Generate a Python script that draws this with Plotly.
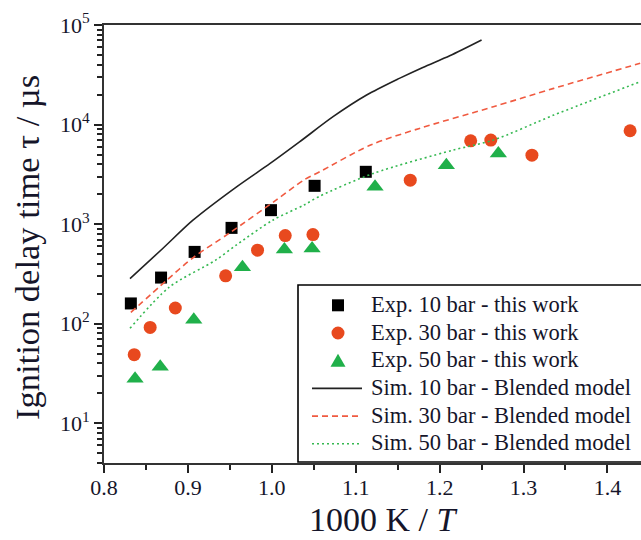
import plotly.graph_objects as go

# Experimental data (1000 K / T, ignition delay in microseconds)
exp10_x = [0.832, 0.868, 0.908, 0.952, 0.999, 1.051, 1.112]
exp10_y = [160, 291, 527, 918, 1383, 2427, 3356]

exp30_x = [0.836, 0.855, 0.885, 0.945, 0.983, 1.016, 1.049, 1.165, 1.237, 1.261, 1.310, 1.427]
exp30_y = [49, 92, 144, 303, 548, 769, 787, 2768, 6870, 6985, 4936, 8670]

exp50_x = [0.837, 0.867, 0.907, 0.965, 1.015, 1.048, 1.123, 1.208, 1.270]
exp50_y = [28, 37, 110, 370, 557, 570, 2371, 3917, 5132]

# Simulations (Blended model)
sim10_x = [0.831, 0.870, 0.906, 0.958, 0.998, 1.033, 1.073, 1.113, 1.152, 1.180, 1.212, 1.250]
sim10_y = [284, 570, 1096, 2371, 4070, 6700, 12000, 19800, 29100, 37500, 49000, 70600]

sim30_x = [0.832, 0.874, 0.906, 0.950, 1.005, 1.038, 1.057, 1.117, 1.176, 1.264, 1.336, 1.439]
sim30_y = [130, 270, 460, 820, 1742, 2768, 3356, 6200, 9160, 15100, 23100, 41200]

sim50_x = [0.831, 0.878, 0.933, 0.958, 1.001, 1.038, 1.057, 1.121, 1.216, 1.264, 1.336, 1.439]
sim50_y = [90, 234, 435, 620, 1096, 1552, 1910, 3236, 5540, 6985, 12450, 26900]

series_names = [
    "Exp. 10 bar - this work",
    "Exp. 30 bar - this work",
    "Exp. 50 bar - this work",
    "Sim. 10 bar - Blended model",
    "Sim. 30 bar - Blended model",
    "Sim. 50 bar - Blended model",
]

x_ticks = [0.8, 0.9, 1.0, 1.1, 1.2, 1.3, 1.4]
y_ticks = [10, 100, 1000, 10000, 100000]
y_tick_text = ["10<sup>1</sup>", "10<sup>2</sup>", "10<sup>3</sup>", "10<sup>4</sup>", "10<sup>5</sup>"]

RED = "#E8491E"
GREEN = "#20B04A"
RED_LINE = "#F05A40"
GREEN_LINE = "#35B851"
FONT = "Liberation Serif"
TXT = "#15152a"

W, H = 641, 540
L, R, T, B = 104, 0, 25, 77
PW, PH = W - L - R, H - T - B


def px_x(p):
    return (p - L) / PW


def px_y(p):
    return (H - B - p) / PH


fig = go.Figure()
fig.add_trace(go.Scatter(x=exp10_x, y=exp10_y, mode="markers", name=series_names[0],
                         marker=dict(symbol="square", size=12, color="black")))
fig.add_trace(go.Scatter(x=exp30_x, y=exp30_y, mode="markers", name=series_names[1],
                         marker=dict(symbol="circle", size=13, color=RED)))
fig.add_trace(go.Scatter(x=exp50_x, y=exp50_y, mode="markers", name=series_names[2],
                         marker=dict(symbol="triangle-up", size=15, color=GREEN)))
fig.add_trace(go.Scatter(x=sim10_x, y=sim10_y, mode="lines", name=series_names[3],
                         line=dict(color="#222222", width=1.6, shape="spline", smoothing=0.8)))
fig.add_trace(go.Scatter(x=sim30_x, y=sim30_y, mode="lines", name=series_names[4],
                         line=dict(color=RED_LINE, width=1.6, dash="6px,4px", shape="spline", smoothing=0.8)))
fig.add_trace(go.Scatter(x=sim50_x, y=sim50_y, mode="lines", name=series_names[5],
                         line=dict(color=GREEN_LINE, width=1.6, dash="2px,3px", shape="spline", smoothing=0.8)))

minor_y = []
for d in [1, 10, 100, 1000, 10000]:
    for k in range(2, 10):
        v = k * d
        if v >= 4:
            minor_y.append(v)

shapes = []
annotations = []

# Legend box (manual legend to match the reference spacing)
shapes.append(dict(type="rect", xref="paper", yref="paper",
                   x0=px_x(298), x1=px_x(660), y0=px_y(462), y1=px_y(285),
                   line=dict(color="black", width=1.6), fillcolor="white", layer="above"))
row_y = [304.3, 332.0, 359.7, 387.4, 415.1, 442.8]
sym_x = 338
for i, name in enumerate(series_names):
    annotations.append(dict(text=name, xref="paper", yref="paper", x=px_x(369), y=px_y(row_y[i]),
                            xanchor="left", yanchor="middle", showarrow=False,
                            font=dict(family=FONT, size=22.5, color=TXT)))
# symbols
shapes.append(dict(type="rect", xref="paper", yref="paper", xsizemode="pixel", ysizemode="pixel",
                   xanchor=px_x(sym_x), yanchor=px_y(row_y[0] + 1), x0=-6, x1=6, y0=-6, y1=6,
                   fillcolor="black", line=dict(width=0), layer="above"))
shapes.append(dict(type="circle", xref="paper", yref="paper", xsizemode="pixel", ysizemode="pixel",
                   xanchor=px_x(sym_x), yanchor=px_y(row_y[1] + 1), x0=-6.5, x1=6.5, y0=-6.5, y1=6.5,
                   fillcolor=RED, line=dict(width=0), layer="above"))
shapes.append(dict(type="path", xref="paper", yref="paper", xsizemode="pixel", ysizemode="pixel",
                   xanchor=px_x(sym_x), yanchor=px_y(row_y[2] + 1),
                   path="M-7.5,-6 L7.5,-6 L0,7 Z",
                   fillcolor=GREEN, line=dict(width=0), layer="above"))
for i, (col, dash) in enumerate([("#222222", "solid"), (RED_LINE, "6px,4px"), (GREEN_LINE, "2px,3px")]):
    shapes.append(dict(type="line", xref="paper", yref="paper",
                       x0=px_x(312), x1=px_x(362), y0=px_y(row_y[3 + i] + 1), y1=px_y(row_y[3 + i] + 1),
                       line=dict(color=col, width=1.6, dash=dash), layer="above"))

# Axis titles
annotations.append(dict(text="1000 K / <i>T</i>", xref="paper", yref="paper",
                        x=px_x(383), y=px_y(519), xanchor="center", yanchor="middle", showarrow=False,
                        font=dict(family=FONT, size=34, color=TXT)))
annotations.append(dict(text="Ignition delay time τ / µs", xref="paper", yref="paper",
                        x=px_x(27), y=px_y(248), xanchor="center", yanchor="middle", showarrow=False,
                        textangle=-90, font=dict(family=FONT, size=34.5, color=TXT)))

fig.update_layout(
    width=W, height=H,
    margin=dict(l=L, r=R, t=T, b=B, autoexpand=False),
    paper_bgcolor="white", plot_bgcolor="white",
    font=dict(family=FONT, color=TXT, size=20),
    showlegend=False,
    shapes=shapes,
    annotations=annotations,
    xaxis=dict(range=[0.8, 1.44], tickvals=x_ticks, tickformat=".1f", automargin=False,
               ticks="outside", ticklen=8, tickwidth=1.5, tickcolor="#222",
               ticklabelstandoff=-4,
               showline=True, linecolor="#333", linewidth=2, mirror=True,
               showgrid=False, zeroline=False,
               tickfont=dict(family=FONT, size=22, color=TXT),
               minor=dict(dtick=0.05, ticks="outside", ticklen=5, tickwidth=1.5, tickcolor="#222", showgrid=False)),
    yaxis=dict(type="log", range=[0.602, 5], tickvals=y_ticks, ticktext=y_tick_text, automargin=False,
               ticks="outside", ticklen=8, tickwidth=1.5, tickcolor="#222",
               showline=True, linecolor="#333", linewidth=2, mirror=False,
               showgrid=False, zeroline=False,
               tickfont=dict(family=FONT, size=22, color=TXT),
               minor=dict(tickvals=minor_y, ticks="outside", ticklen=5, tickwidth=1.5, tickcolor="#222", showgrid=False)),
)

fig.write_html("out.html", config={"displayModeBar": False},
               post_script="document.body.style.margin='0';document.body.style.overflow='hidden';")
